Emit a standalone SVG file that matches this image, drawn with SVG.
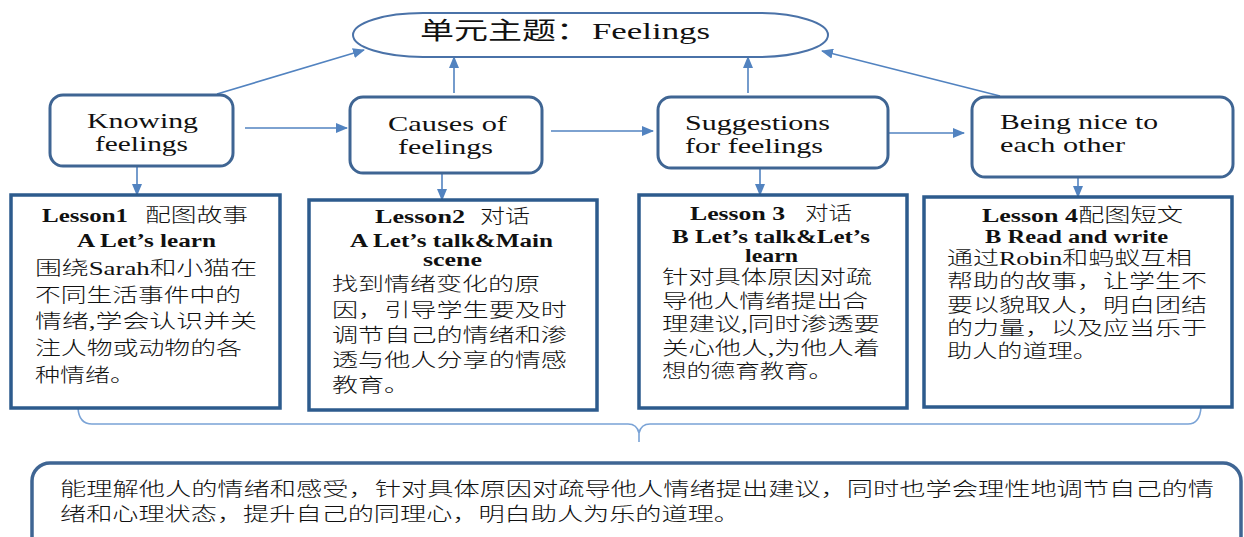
<svg xmlns="http://www.w3.org/2000/svg" width="1244" height="537" viewBox="0 0 1244 537">
<style>
.bg{fill:#ffffff}
.node{fill:#ffffff;stroke:#3f6593;stroke-width:3}
.lesson{fill:#ffffff;stroke:#2d5b8d;stroke-width:3.5}
.title{fill:#ffffff;stroke:#4a72a8;stroke-width:2}
.conn{fill:none;stroke:#5283c0;stroke-width:1.6}
.brace{fill:none;stroke:#7aa3d6;stroke-width:1.6}
.en{font-family:"Liberation Serif","Noto Sans CJK SC",serif;fill:#111}
.cn{font-family:"Liberation Serif","Noto Sans CJK SC",sans-serif;fill:#111;font-weight:300}
.b{font-weight:bold}
</style>
<defs>
<marker id="ah" markerUnits="userSpaceOnUse" markerWidth="12" markerHeight="10" refX="11" refY="5" orient="auto">
<path d="M0,0 L12,5 L0,10 z" fill="#5283c0"/>
</marker>
</defs>
<rect class="bg" x="0" y="0" width="1244" height="537"/>

<g id="connectors">
<path class="conn" marker-end="url(#ah)" d="M217,94 L364,50"/>
<path class="conn" marker-end="url(#ah)" d="M454,93 L454,57"/>
<path class="conn" marker-end="url(#ah)" d="M748,93 L748,57"/>
<path class="conn" marker-end="url(#ah)" d="M1000,96 L822,51"/>
<path class="conn" marker-end="url(#ah)" d="M245,128 L347,128"/>
<path class="conn" marker-end="url(#ah)" d="M551,131 L653,131"/>
<path class="conn" marker-end="url(#ah)" d="M862,133 L964,133"/>
<path class="conn" marker-end="url(#ah)" d="M137,166 L137,195"/>
<path class="conn" marker-end="url(#ah)" d="M442,173 L442,200"/>
<path class="conn" marker-end="url(#ah)" d="M760,169 L760,195"/>
<path class="conn" marker-end="url(#ah)" d="M1078,177 L1078,197"/>
<path class="brace" d="M78,408 Q79,424 92,424 H628 Q637,424 639,433 Q641,424 650,424 H1188 Q1200,424 1201,407 M639,433 V442"/>
</g>

<g id="theme">
<rect class="title" x="353" y="13" width="475" height="44" rx="70" ry="22"/>
<text x="420" y="39" font-size="24" textLength="170" lengthAdjust="spacingAndGlyphs" style="font-family:'Noto Sans CJK SC',sans-serif;fill:#111">单元主题：</text>
<text class="en" x="592" y="39" font-size="24" textLength="118" lengthAdjust="spacingAndGlyphs">Feelings</text>
</g>

<g id="knowing">
<rect class="node" x="50" y="95" width="183" height="71" rx="13"/>
<text class="en" x="87" y="128" font-size="21" textLength="111" lengthAdjust="spacingAndGlyphs">Knowing</text>
<text class="en" x="95" y="151" font-size="21" textLength="93" lengthAdjust="spacingAndGlyphs">feelings</text>
</g>

<g id="causes">
<rect class="node" x="350" y="97" width="192" height="76" rx="13"/>
<text class="en" x="388" y="131" font-size="21" textLength="119" lengthAdjust="spacingAndGlyphs">Causes of</text>
<text class="en" x="398" y="154" font-size="21" textLength="95" lengthAdjust="spacingAndGlyphs">feelings</text>
</g>

<g id="suggestions">
<rect class="node" x="658" y="97" width="230" height="71" rx="13"/>
<text class="en" x="685" y="130" font-size="21" textLength="145" lengthAdjust="spacingAndGlyphs">Suggestions</text>
<text class="en" x="685" y="153" font-size="21" textLength="138" lengthAdjust="spacingAndGlyphs">for feelings</text>
</g>

<g id="nice">
<rect class="node" x="972" y="97" width="261" height="80" rx="13"/>
<text class="en" x="1000" y="129" font-size="21" textLength="158" lengthAdjust="spacingAndGlyphs">Being nice to</text>
<text class="en" x="1000" y="152" font-size="21" textLength="125" lengthAdjust="spacingAndGlyphs">each other</text>
</g>

<g id="lesson1">
<rect class="lesson" x="11" y="195" width="269" height="213"/>
<text class="en b" x="42" y="222" font-size="18" textLength="86" lengthAdjust="spacingAndGlyphs">Lesson1</text>
<text class="cn" x="145" y="222" font-size="19" textLength="103" lengthAdjust="spacingAndGlyphs">配图故事</text>
<text class="en b" x="77" y="247" font-size="18" textLength="139" lengthAdjust="spacingAndGlyphs">A Let’s learn</text>
<text class="cn" x="35" y="275" font-size="19" textLength="222" lengthAdjust="spacingAndGlyphs">围绕Sarah和小猫在</text>
<text class="cn" x="35" y="302" font-size="19" textLength="206" lengthAdjust="spacingAndGlyphs">不同生活事件中的</text>
<text class="cn" x="35" y="328" font-size="19" textLength="222" lengthAdjust="spacingAndGlyphs">情绪,学会认识并关</text>
<text class="cn" x="35" y="355" font-size="19" textLength="207" lengthAdjust="spacingAndGlyphs">注人物或动物的各</text>
<text class="cn" x="35" y="382" font-size="19" textLength="100" lengthAdjust="spacingAndGlyphs">种情绪。</text>
</g>

<g id="lesson2">
<rect class="lesson" x="309" y="200" width="288" height="210"/>
<text class="en b" x="375" y="223" font-size="18" textLength="90" lengthAdjust="spacingAndGlyphs">Lesson2</text>
<text class="cn" x="480" y="223" font-size="19" textLength="50" lengthAdjust="spacingAndGlyphs">对话</text>
<text class="en b" x="350" y="247" font-size="18" textLength="203" lengthAdjust="spacingAndGlyphs">A Let’s talk&amp;Main</text>
<text class="en b" x="423" y="266" font-size="18" textLength="59" lengthAdjust="spacingAndGlyphs">scene</text>
<text class="cn" x="332" y="291" font-size="19" textLength="208" lengthAdjust="spacingAndGlyphs">找到情绪变化的原</text>
<text class="cn" x="332" y="317" font-size="19" textLength="235" lengthAdjust="spacingAndGlyphs">因，引导学生要及时</text>
<text class="cn" x="332" y="342" font-size="19" textLength="235" lengthAdjust="spacingAndGlyphs">调节自己的情绪和渗</text>
<text class="cn" x="332" y="367" font-size="19" textLength="235" lengthAdjust="spacingAndGlyphs">透与他人分享的情感</text>
<text class="cn" x="332" y="392" font-size="19" textLength="78" lengthAdjust="spacingAndGlyphs">教育。</text>
</g>

<g id="lesson3">
<rect class="lesson" x="639" y="195" width="268" height="213"/>
<text class="en b" x="690" y="220" font-size="18" textLength="95" lengthAdjust="spacingAndGlyphs">Lesson 3</text>
<text class="cn" x="805" y="220" font-size="19" textLength="47" lengthAdjust="spacingAndGlyphs">对话</text>
<text class="en b" x="672" y="243" font-size="18" textLength="198" lengthAdjust="spacingAndGlyphs">B Let’s talk&amp;Let’s</text>
<text class="en b" x="745" y="262" font-size="18" textLength="53" lengthAdjust="spacingAndGlyphs">learn</text>
<text class="cn" x="662" y="284" font-size="19" textLength="210" lengthAdjust="spacingAndGlyphs">针对具体原因对疏</text>
<text class="cn" x="662" y="308" font-size="19" textLength="206" lengthAdjust="spacingAndGlyphs">导他人情绪提出合</text>
<text class="cn" x="662" y="331" font-size="19" textLength="218" lengthAdjust="spacingAndGlyphs">理建议,同时渗透要</text>
<text class="cn" x="662" y="355" font-size="19" textLength="218" lengthAdjust="spacingAndGlyphs">关心他人,为他人着</text>
<text class="cn" x="662" y="378" font-size="19" textLength="171" lengthAdjust="spacingAndGlyphs">想的德育教育。</text>
</g>

<g id="lesson4">
<rect class="lesson" x="924" y="197" width="308" height="210"/>
<text class="en b" x="982" y="222" font-size="18" textLength="96" lengthAdjust="spacingAndGlyphs">Lesson 4</text>
<text class="cn" x="1078" y="222" font-size="19" textLength="105" lengthAdjust="spacingAndGlyphs">配图短文</text>
<text class="en b" x="985" y="243" font-size="18" textLength="183" lengthAdjust="spacingAndGlyphs">B Read and write</text>
<text class="cn" x="947" y="265" font-size="19" textLength="245" lengthAdjust="spacingAndGlyphs">通过Robin和蚂蚁互相</text>
<text class="cn" x="947" y="288" font-size="19" textLength="260" lengthAdjust="spacingAndGlyphs">帮助的故事，让学生不</text>
<text class="cn" x="947" y="312" font-size="19" textLength="260" lengthAdjust="spacingAndGlyphs">要以貌取人，明白团结</text>
<text class="cn" x="947" y="335" font-size="19" textLength="260" lengthAdjust="spacingAndGlyphs">的力量，以及应当乐于</text>
<text class="cn" x="947" y="358" font-size="19" textLength="151" lengthAdjust="spacingAndGlyphs">助人的道理。</text>
</g>

<g id="summary">
<rect class="node" x="32" y="463" width="1209" height="100" rx="18" style="stroke-width:3.5"/>
<text class="cn" x="60" y="496" font-size="19" textLength="1154" lengthAdjust="spacingAndGlyphs">能理解他人的情绪和感受，针对具体原因对疏导他人情绪提出建议，同时也学会理性地调节自己的情</text>
<text class="cn" x="60" y="521" font-size="19" textLength="680" lengthAdjust="spacingAndGlyphs">绪和心理状态，提升自己的同理心，明白助人为乐的道理。</text>
</g>
</svg>
